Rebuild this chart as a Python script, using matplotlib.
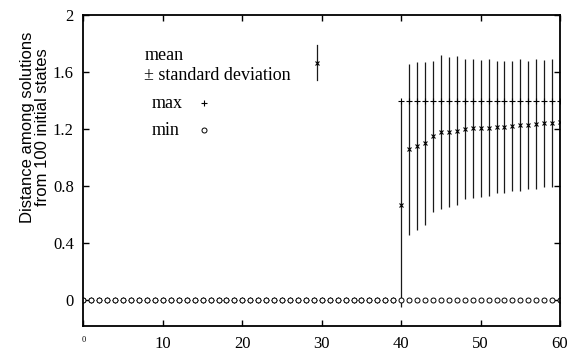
import numpy as np
import matplotlib
matplotlib.use("Agg")
import matplotlib.pyplot as plt

# Iteration index
steps = list(range(0, 61))

# Mean distance among solutions (zero until step 40)
mean_dist = [0.0] * 40 + [
    0.67, 1.06, 1.08, 1.10, 1.15, 1.18, 1.18, 1.19, 1.20, 1.205,
    1.205, 1.21, 1.215, 1.215, 1.22, 1.23, 1.23, 1.235, 1.24, 1.245,
    1.25,
]
# Standard deviation of the distance
std_dist = [0.0] * 40 + [
    0.72, 0.60, 0.59, 0.57, 0.53, 0.54, 0.525, 0.52, 0.49, 0.485,
    0.48, 0.48, 0.465, 0.465, 0.455, 0.46, 0.45, 0.455, 0.445, 0.45,
    0.44,
]
# Maximum and minimum distance
max_dist = [0.0] * 40 + [1.40] * 21
min_dist = [0.0] * 61

x_ticks = [0, 10, 20, 30, 40, 50, 60]
y_ticks = [0, 0.4, 0.8, 1.2, 1.6, 2.0]
y_tick_labels = ["0", "0.4", "0.8", "1.2", "1.6", "2"]

serif = ["Liberation Serif", "DejaVu Serif"]
sans = ["Liberation Sans", "DejaVu Sans"]

fig = plt.figure(figsize=(5.68, 3.52), dpi=100)
ax = fig.add_axes([0.147, 0.074, 0.839, 0.883])

x = np.array(steps)
m = np.array(mean_dist)
s = np.array(std_dist)

# error bars: mean +/- standard deviation
ax.vlines(x, m - s, m + s, color="#1a1a1a", lw=0.9)
ax.plot(x, m, ls="none", marker="x", ms=3.2, mew=0.8, color="black")
ax.plot(x, max_dist, ls="none", marker="+", ms=4.5, mew=0.8, color="black")
ax.plot(x, min_dist, ls="none", marker="o", ms=3.6, mew=0.7,
        mfc="white", mec="black")

ax.set_xlim(0, 60)
ax.set_ylim(-0.18, 2.0)
ax.set_xticks(x_ticks)
ax.set_xticklabels(["0"] + [str(t) for t in x_ticks[1:]], family=serif, fontsize=12)
ax.get_xticklabels()[0].set_fontsize(6)
ax.set_yticks(y_ticks)
ax.set_yticklabels(y_tick_labels, family=serif, fontsize=12)
ax.tick_params(direction="in", length=4, width=1, top=True, right=True,
               color="black", pad=7)

for sp in ax.spines.values():
    sp.set_linewidth(1.3)
    sp.set_color("black")

ax.set_ylabel("Distance among solutions\nfrom 100 initial states",
              family=sans, fontsize=12, linespacing=1.05)
ax.yaxis.set_label_coords(-0.07, 0.64)

# key
tr = ax.transAxes
txt = dict(transform=tr, family=serif, fontsize=13, va="center", ha="left")
ax.text(0.129, 0.871, "mean", **txt)
ax.text(0.127, 0.807, "\u00b1 standard deviation", **txt)
ax.text(0.144, 0.717, "max", **txt)
ax.text(0.144, 0.630, "min", **txt)
ax.plot([0.49, 0.49], [0.791, 0.904], transform=tr, color="#1a1a1a", lw=0.9)
ax.plot([0.49], [0.846], transform=tr, marker="x", ms=3.2, mew=0.8, color="black")
ax.plot([0.253], [0.717], transform=tr, marker="+", ms=4.5, mew=0.8, color="black")
ax.plot([0.253], [0.630], transform=tr, marker="o", ms=3.6, mew=0.7,
        mfc="white", mec="black")

fig.savefig("out.png", dpi=100)
